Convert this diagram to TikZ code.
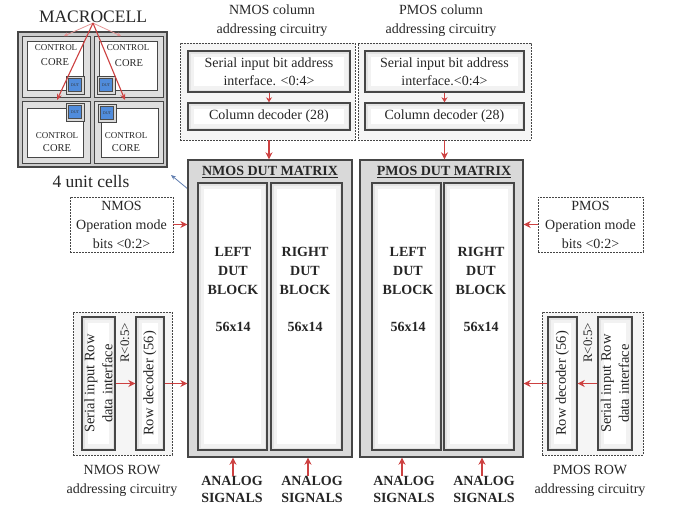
\documentclass[tikz,border=0pt]{standalone}
\usepackage{fontspec}
\setmainfont{Liberation Serif}
\usetikzlibrary{arrows.meta,calc}
\newcommand\myfs[2]{\fontsize{#1}{#2}\selectfont}
\definecolor{arrred}{RGB}{205,65,65}
\definecolor{dutblue}{RGB}{80,140,220}
\definecolor{frame}{RGB}{70,70,70}
\definecolor{bluearr}{RGB}{95,125,175}
\begin{document}
\begin{tikzpicture}[x=1pt,y=-1pt,
  glow/.style={path picture={
     \draw[gray!10,line width=12pt] (path picture bounding box.south west) rectangle (path picture bounding box.north east);
     \draw[gray!22,line width=5pt] (path picture bounding box.south west) rectangle (path picture bounding box.north east);}},
  sbox/.style={draw=frame, line width=1.4pt, fill=white, glow, inner sep=0pt},
  dbox/.style={draw=frame, dashed, dash pattern=on 2pt off 1pt, line width=0.9pt, fill=gray!8, inner sep=0pt},
  mat/.style={draw=frame, line width=1.4pt, fill=gray!30, inner sep=0pt},
  rarr/.style={draw=arrred, line width=1.3pt, -{Stealth[length=7pt,width=7pt]}},
  txt/.style={align=center, font=\myfs{14}{19}, text=black!85, inner sep=0pt},
  btxt/.style={align=center, font=\myfs{14}{19}\bfseries, text=black!85, inner sep=0pt},
  cell/.style={draw=frame, line width=1pt, fill=gray!25, inner sep=0pt},
  core/.style={draw=frame, line width=1pt, fill=white, inner sep=0pt},
  dutring/.style={draw=frame, line width=0.8pt, fill=gray!30, minimum size=18pt, inner sep=0pt},
  dut/.style={draw=black!70, line width=0.6pt, fill=dutblue, minimum size=13pt, inner sep=0pt, font=\myfs{4}{4}, text=black!80},
  ctl/.style={font=\myfs{9}{9}, text=black!85, inner sep=0pt},
  cre/.style={font=\myfs{10.5}{10.5}, text=black!85, inner sep=0pt}
]
\useasboundingbox (0,0) rectangle (675,506);

% ---------------- MACROCELL ----------------
\node[txt, font=\myfs{17.5}{20}] (mtitle) at (93,17) {MACROCELL};
\node[draw=frame, line width=1.2pt, fill=gray!40, minimum width=149pt, minimum height=135pt, inner sep=0pt] (mouter) at (92.5,99.5) {};
\node[cell, minimum width=68pt, minimum height=61pt] (c1) at (56,66.5) {};
\node[cell, minimum width=69pt, minimum height=61pt] (c2) at (128.5,66.5) {};
\node[cell, minimum width=68pt, minimum height=62pt] (c3) at (56,132) {};
\node[cell, minimum width=69pt, minimum height=62pt] (c4) at (128.5,132) {};
\node[core, minimum width=56pt, minimum height=49pt] (k1) at (55,65.5) {};
\node[core, minimum width=58pt, minimum height=49pt] (k2) at (128,65.5) {};
\node[core, minimum width=56pt, minimum height=49pt] (k3) at (55,132.5) {};
\node[core, minimum width=57pt, minimum height=49pt] (k4) at (129.5,132.5) {};
\node[ctl] (k1a) at (56,48) {CONTROL};
\node[cre] (k1b) at (55,62) {CORE};
\node[ctl] (k2a) at (128,48) {CONTROL};
\node[cre] (k2b) at (129,63) {CORE};
\node[ctl] (k3a) at (57,136) {CONTROL};
\node[cre] (k3b) at (57,148) {CORE};
\node[ctl] (k4a) at (126,136) {CONTROL};
\node[cre] (k4b) at (126,148) {CORE};
\node[dutring] (r1) at (75,85) {};
\node[dutring] (r2) at (106,85) {};
\node[dutring] (r3) at (75,112) {};
\node[dutring] (r4) at (107,113) {};
\node[dut] (d1) at (r1) {DUT};
\node[dut] (d2) at (r2) {DUT};
\node[dut] (d3) at (r3) {DUT};
\node[dut] (d4) at (r4) {DUT};
\coordinate (m1) at (57,100);
\coordinate (m2) at (125,100);
\coordinate (m3) at (64,36);
\coordinate (m4) at (121,36);
\draw[draw=arrred!55, line width=0.8pt, -{Stealth[length=4pt,width=4pt]}] (mtitle.south) -- (m3);
\draw[draw=arrred!55, line width=0.8pt, -{Stealth[length=4pt,width=4pt]}] (mtitle.south) -- (m4);
\draw[draw=arrred, line width=1.1pt, -{Stealth[length=6pt,width=5pt]}] (mtitle.south) -- (m1);
\draw[draw=arrred, line width=1.1pt, -{Stealth[length=6pt,width=5pt]}] (mtitle.south) -- (m2);
\node[txt, font=\myfs{17.5}{20}] (units) at (91,182) {4 unit cells};
\coordinate (b1) at (206,204);
\coordinate (b2) at (171,175);
\draw[draw=bluearr, line width=0.8pt, -{Stealth[length=5pt,width=4pt]}] (b1) -- (b2);

% ---------------- column addressing ----------------
\node[txt] (ncolt) at (272,21) {NMOS column\\addressing circuitry};
\node[txt] (pcolt) at (441,21) {PMOS column\\addressing circuitry};
\node[dbox, minimum width=175pt, minimum height=97pt] (ncol) at (267.5,91.5) {};
\node[dbox, minimum width=173pt, minimum height=97pt] (pcol) at (444.5,91.5) {};
\node[sbox, minimum width=162pt, minimum height=41pt] (nif) at (269,71.5) {};
\node[txt, font=\myfs{14}{18}] (nift) at (nif) {Serial input bit address\\interface. <0:4>};
\node[sbox, minimum width=162pt, minimum height=27pt] (ndec) at (269,116.5) {};
\node[txt] (ndect) at (ndec) {Column decoder (28)};
\node[sbox, minimum width=159pt, minimum height=41pt] (pif) at (444.5,71.5) {};
\node[txt, font=\myfs{14}{18}] (pift) at (pif) {Serial input bit address\\interface.<0:4>};
\node[sbox, minimum width=159pt, minimum height=27pt] (pdec) at (444.5,116.5) {};
\node[txt] (pdect) at (pdec) {Column decoder (28)};
\draw[rarr, line width=1pt, -{Stealth[length=5pt,width=6pt]}] (nif.south) -- (ndec.north);
\draw[rarr, line width=1pt, -{Stealth[length=5pt,width=6pt]}] (pif.south) -- (pdec.north);

% ---------------- DUT matrices ----------------
\node[mat, minimum width=164pt, minimum height=297pt] (nmat) at (270,308.5) {};
\node[mat, minimum width=163pt, minimum height=297pt] (pmat) at (441.5,308.5) {};
\draw[rarr] (ncol.south -| nif.south) -- (nmat.north -| nif.south);
\draw[rarr] (pcol.south -| pif.south) -- (pmat.north -| pif.south);
\node[btxt] (nmatt) at (270,172) {\underline{NMOS DUT MATRIX}};
\node[btxt] (pmatt) at (444,172) {\underline{PMOS DUT MATRIX}};
\node[sbox, minimum width=69pt, minimum height=267pt] (nl) at (232.5,316.5) {};
\node[sbox, minimum width=71pt, minimum height=267pt] (nr) at (306.5,316.5) {};
\node[sbox, minimum width=69pt, minimum height=267pt] (pl) at (406.5,316.5) {};
\node[sbox, minimum width=70pt, minimum height=267pt] (pr) at (479,316.5) {};
\node[btxt] (nlt) at (233,271) {LEFT\\DUT\\BLOCK};
\node[btxt] (nrt) at (305,271) {RIGHT\\DUT\\BLOCK};
\node[btxt] (plt) at (408,271) {LEFT\\DUT\\BLOCK};
\node[btxt] (prt) at (481,271) {RIGHT\\DUT\\BLOCK};
\node[btxt] (nls) at (233,327) {56x14};
\node[btxt] (nrs) at (305,327) {56x14};
\node[btxt] (pls) at (408,327) {56x14};
\node[btxt] (prs) at (481,327) {56x14};

% ---------------- analog signals ----------------
\node[btxt, font=\myfs{14}{17}\bfseries] (an1) at (232,489) {ANALOG\\SIGNALS};
\node[btxt, font=\myfs{14}{17}\bfseries] (an2) at (312,489) {ANALOG\\SIGNALS};
\node[btxt, font=\myfs{14}{17}\bfseries] (an3) at (404,489) {ANALOG\\SIGNALS};
\node[btxt, font=\myfs{14}{17}\bfseries] (an4) at (484,489) {ANALOG\\SIGNALS};
\coordinate (a1) at (233,476);
\coordinate (a2) at (308,476);
\coordinate (a3) at (402,476);
\coordinate (a4) at (482,476);
\draw[rarr] (a1) -- (a1 |- nmat.south);
\draw[rarr] (a2) -- (a2 |- nmat.south);
\draw[rarr] (a3) -- (a3 |- pmat.south);
\draw[rarr] (a4) -- (a4 |- pmat.south);

% ---------------- operation mode ----------------
\node[dbox, fill=white, minimum width=103pt, minimum height=55pt] (nop) at (121.5,224.5) {};
\node[txt] (nopt) at (nop) {NMOS\\Operation mode\\bits <0:2>};
\node[dbox, fill=white, minimum width=105pt, minimum height=55pt] (pop) at (590.5,224.5) {};
\node[txt] (popt) at (pop) {PMOS\\Operation mode\\bits <0:2>};
\draw[rarr] (nop.east) -- (nop.east -| nmat.west);
\draw[rarr] (pop.west) -- (pop.west -| pmat.east);

% ---------------- row addressing ----------------
\node[dbox, minimum width=99pt, minimum height=143pt] (nrow) at (122.5,383.5) {};
\node[sbox, minimum width=33pt, minimum height=133pt] (nser) at (98.5,383.5) {};
\node[sbox, minimum width=28pt, minimum height=133pt] (nrd) at (150,383.5) {};
\node[txt, rotate=90, font=\myfs{14.5}{18}] (nsert) at (nser) {Serial input Row\\data interface};
\node[txt, rotate=90, font=\myfs{14.5}{18}] (nrdt) at (nrd) {Row decoder (56)};
\node[txt, rotate=90, font=\myfs{13}{16}] (nr5) at (125,343) {R<0:5>};
\draw[rarr] (nser.east) -- (nrd.west);
\draw[rarr] (nrd.east) -- (nrd.east -| nmat.west);
\node[txt] (nrowt) at (122,481) {NMOS ROW\\addressing circuitry};

\node[dbox, minimum width=101pt, minimum height=143pt] (prow) at (592.5,383.5) {};
\node[sbox, minimum width=29pt, minimum height=133pt] (prd) at (562.5,383.5) {};
\node[sbox, minimum width=34pt, minimum height=133pt] (pser) at (615,383.5) {};
\node[txt, rotate=90, font=\myfs{14.5}{18}] (psert) at (pser) {Serial input Row\\data interface};
\node[txt, rotate=90, font=\myfs{14.5}{18}] (prdt) at (prd) {Row decoder (56)};
\node[txt, rotate=90, font=\myfs{13}{16}] (pr5) at (588,343) {R<0:5>};
\draw[rarr] (pser.west) -- (prd.east);
\draw[rarr] (prd.west) -- (prd.west -| pmat.east);
\node[txt] (prowt) at (590,481) {PMOS ROW\\addressing circuitry};
\end{tikzpicture}
\end{document}
